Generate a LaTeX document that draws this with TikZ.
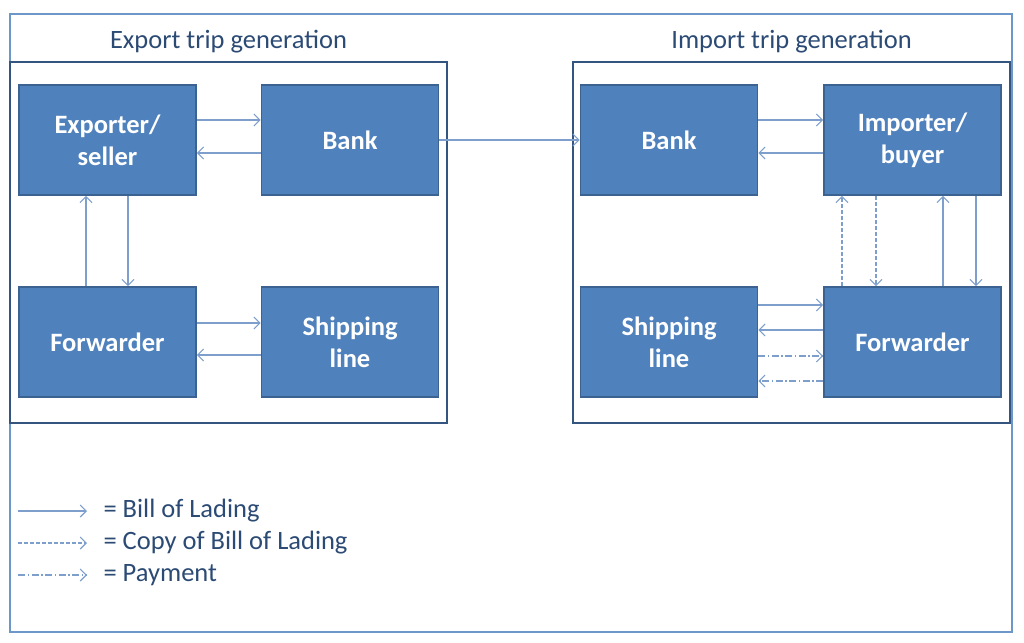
\documentclass[tikz,border=0pt]{standalone}
\usepackage{fontspec}
\setmainfont{Carlito}
\usetikzlibrary{arrows.meta,positioning}
\definecolor{boxfill}{HTML}{4F81BD}
\definecolor{boxline}{HTML}{3B6290}
\definecolor{grpline}{HTML}{34557F}
\definecolor{arrline}{HTML}{7E9FCB}
\definecolor{txtblue}{HTML}{2B4A74}
\definecolor{frameline}{HTML}{6D97C9}
\tikzset{
	actor/.style={rectangle, fill=boxfill, draw=boxline, line width=1.6pt, minimum width=177pt, minimum height=110pt, inner sep=0pt, align=center, text=white, font=\fontsize{26.5}{32}\selectfont\bfseries},
	group/.style={rectangle, draw=grpline, line width=1.6pt, minimum width=437pt, minimum height=361pt, inner sep=0pt},
	grptitle/.style={anchor=south, text=txtblue, font=\fontsize{26.5}{30}\selectfont},
	legtext/.style={anchor=west, text=txtblue, font=\fontsize{26.5}{30}\selectfont},
	flow/.style={draw=arrline, line width=1.1pt, -{Straight Barb[length=6pt,width=12pt]}},
	bol/.style={flow},
	copybol/.style={flow, dash pattern=on 4pt off 2pt},
	payment/.style={flow, dash pattern=on 7pt off 2.5pt on 1.5pt off 2.5pt}
}
\begin{document}
\begin{tikzpicture}[x=1pt, y=-1pt]
	\useasboundingbox (0,0) rectangle (1024,642);
	\draw[frameline, line width=1.5pt] (10,14) rectangle (1012,632);
	% group frames
	\node[group] (expgrp) at (228.5,242.5) {};
	\node[group] (impgrp) at (791.5,242.5) {};
	\node[grptitle] (exptitle) at ([yshift=5pt]expgrp.north) {Export trip generation};
	\node[grptitle] (imptitle) at ([yshift=5pt]impgrp.north) {Import trip generation};
	% actors
	\node[actor] (exp) at (107.5,140) {Exporter/\\seller};
	\node[actor] (bankL) at (350,140) {Bank};
	\node[actor] (fwdL) at (107.5,342) {Forwarder};
	\node[actor] (shipL) at (350,342) {Shipping\\line};
	\node[actor] (bankR) at (669,140) {Bank};
	\node[actor] (imp) at (912.5,140) {Importer/\\buyer};
	\node[actor] (shipR) at (669,342) {Shipping\\line};
	\node[actor] (fwdR) at (912.5,342) {Forwarder};
	% export side
	\draw[bol] ([yshift=20pt]exp.east) -- ([yshift=20pt]bankL.west);
	\draw[bol] ([yshift=-13pt]bankL.west) -- ([yshift=-13pt]exp.east);
	\draw[bol] ([xshift=-21.5pt]fwdL.north) -- ([xshift=-21.5pt]exp.south);
	\draw[bol] ([xshift=20.5pt]exp.south) -- ([xshift=20.5pt]fwdL.north);
	\draw[bol] ([yshift=19pt]fwdL.east) -- ([yshift=19pt]shipL.west);
	\draw[bol] ([yshift=-13pt]shipL.west) -- ([yshift=-13pt]fwdL.east);
	\draw[bol] (bankL) -- (bankR);
	% import side
	\draw[bol] ([yshift=20pt]bankR.east) -- ([yshift=20pt]imp.west);
	\draw[bol] ([yshift=-13pt]imp.west) -- ([yshift=-13pt]bankR.east);
	\draw[copybol] ([xshift=-70.5pt]fwdR.north) -- ([xshift=-70.5pt]imp.south);
	\draw[copybol] ([xshift=-36.5pt]imp.south) -- ([xshift=-36.5pt]fwdR.north);
	\draw[bol] ([xshift=30.5pt]fwdR.north) -- ([xshift=30.5pt]imp.south);
	\draw[bol] ([xshift=63.5pt]imp.south) -- ([xshift=63.5pt]fwdR.north);
	\draw[bol] ([yshift=37pt]shipR.east) -- ([yshift=37pt]fwdR.west);
	\draw[bol] ([yshift=12pt]fwdR.west) -- ([yshift=12pt]shipR.east);
	\draw[payment] ([yshift=-14pt]shipR.east) -- ([yshift=-14pt]fwdR.west);
	\draw[payment] ([yshift=-39pt]fwdR.west) -- ([yshift=-39pt]shipR.east);
	% legend
	\foreach \kind/\label [count=\li] in {bol/{= Bill of Lading}, copybol/{= Copy of Bill of Lading}, payment/{= Payment}}
		{
			\coordinate (leg\li s) at (18,{479+32*\li});
			\coordinate (leg\li e) at (87,{479+32*\li});
			\draw[\kind] (leg\li s) -- (leg\li e);
			\node[legtext] (legtext\li) at (100,{479+32*\li}) {\label};
		}
\end{tikzpicture}
\end{document}
